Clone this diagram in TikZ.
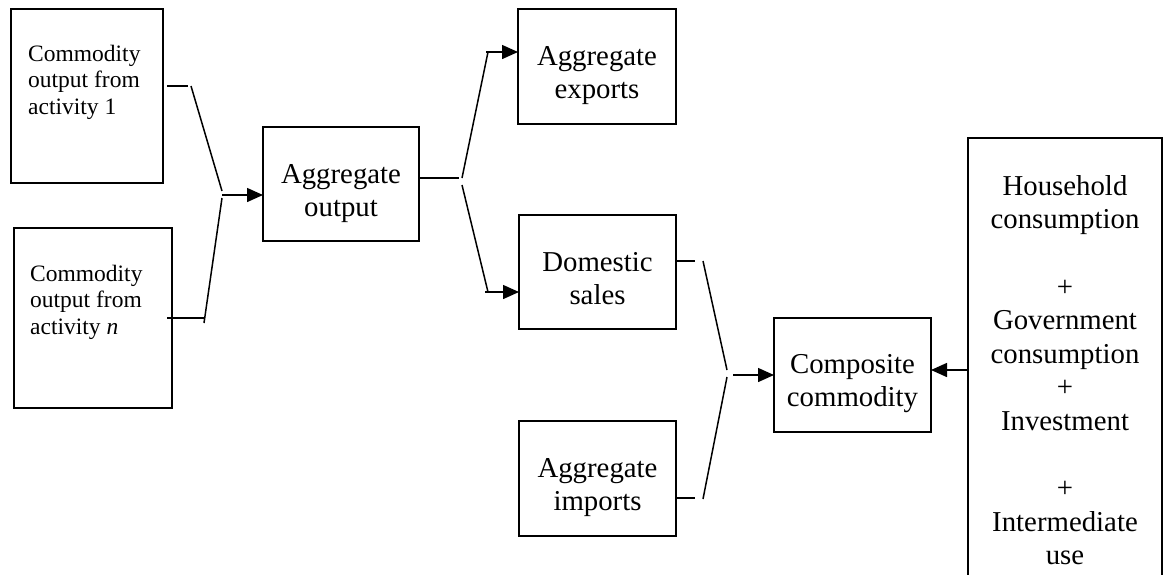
\documentclass[tikz,border=0pt]{standalone}
\usepackage{fontspec}
\setmainfont{Liberation Serif}
\usetikzlibrary{arrows.meta,calc}
\begin{document}
\begin{tikzpicture}[x=1pt,y=-1pt,
  box/.style={draw,line width=1.5pt,inner sep=0pt,outer sep=0pt},
  big/.style={inner sep=0pt,align=center,anchor=north,font=\fontsize{28.8}{33.5}\selectfont},
  small/.style={inner sep=0pt,align=left,anchor=north west,font=\fontsize{23.5}{26.5}\selectfont},
  con/.style={line width=1.5pt},
  arr/.style={line width=1.5pt,-{Triangle[length=16pt,width=14pt]}}]
\useasboundingbox (0,0) rectangle (1163,574);
% boxes
\node[box,minimum width=152pt,minimum height=174pt] (b1) at (87,96) {};
\node[box,minimum width=158pt,minimum height=180pt] (bn) at (93,318) {};
\node[box,minimum width=156pt,minimum height=114pt] (agg) at (341,184) {};
\node[box,minimum width=158pt,minimum height=115pt] (exp) at (597,66.5) {};
\node[box,minimum width=157pt,minimum height=114pt] (dom) at (597.5,272) {};
\node[box,minimum width=157pt,minimum height=115pt] (imp) at (597.5,478.5) {};
\node[box,minimum width=157pt,minimum height=114pt] (comp) at (852.5,375) {};
\node[box,minimum width=194pt,minimum height=482pt] (rb) at (1065,379) {};
% texts
\node[small] (t1) at (28,42.45) {\strut Commodity\\output from\\activity 1};
\node[small] (tn) at (30,262.45) {\strut Commodity\\output from\\activity \textit{n}};
\node[big] (tagg) at (341,159.55) {\strut Aggregate\\output};
\node[big] (texp) at (597,41.55) {\strut Aggregate\\exports};
\node[big] (tdom) at (597.5,247.55) {\strut Domestic\\sales};
\node[big] (timp) at (597.5,453.55) {\strut Aggregate\\imports};
\node[big] (tcomp) at (852.5,349.55) {\strut Composite\\commodity};
\node[big,font=\fontsize{28.8}{33.6}\selectfont] (trb) at (1065,171.55)
  {\strut Household\\consumption\\[33.6pt]+\\Government\\consumption\\+\\Investment\\[33.6pt]+\\Intermediate\\use};
% junction coordinates
\coordinate (a2) at (188,86);
\coordinate (a3) at (191,86);
\coordinate (m1) at (222,191);
\coordinate (m0) at (222,195);
\coordinate (m2) at (222,198);
\coordinate (an3) at (204,323);
\coordinate (an2) at (205,318);
\coordinate (s0) at (459,178);
\coordinate (s1) at (462,178);
\coordinate (s2) at (462,185);
\coordinate (u1) at (488,52);
\coordinate (u0) at (486,52);
\coordinate (d1) at (488,292);
\coordinate (d0) at (485,292);
\coordinate (c0) at (695,261);
\coordinate (c1) at (703,261);
\coordinate (c2) at (727,370);
\coordinate (c3) at (733,375);
\coordinate (e0) at (695,498);
\coordinate (e1) at (703,499);
\coordinate (e2) at (727,377);
\coordinate (r0) at (950,370);
% connectors
\draw[con,shorten <=4pt] (b1.east|-a2) -- (a2);
\draw[con] (a3) -- (m1);
\draw[arr] (m0) -- (agg.west|-m0);
\draw[con] (m2) -- (an3);
\draw[con,shorten <=-5pt] (bn.east|-an2) -- (an2);
\draw[con] (agg.east|-s0) -- (s0);
\draw[con] (s1) -- (u1);
\draw[arr] (u0) -- (exp.west|-u0);
\draw[con] (s2) -- (d1);
\draw[arr] (d0) -- (dom.west|-d0);
\draw[con] (dom.east|-c0) -- (c0);
\draw[con] (c1) -- (c2);
\draw[con] (imp.east|-e0) -- (e0);
\draw[con] (e1) -- (e2);
\draw[arr] (c3) -- (comp.west|-c3);
\draw[arr] (rb.west|-r0) -- (comp.east|-r0);
\end{tikzpicture}
\end{document}
